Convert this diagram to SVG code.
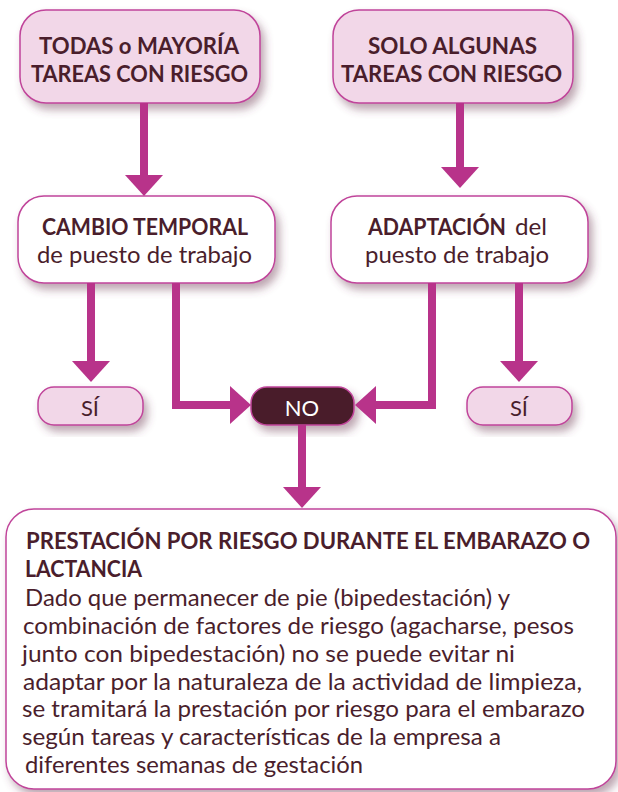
<svg xmlns="http://www.w3.org/2000/svg" width="618" height="792" viewBox="0 0 618 792">
  <defs>
    <filter id="sh" x="-10%" y="-10%" width="125%" height="140%">
      <feDropShadow dx="4" dy="6" stdDeviation="4" flood-color="#6e3a52" flood-opacity="0.45"/>
    </filter>
    <marker id="ah" markerUnits="userSpaceOnUse" markerWidth="22" markerHeight="38" refX="0" refY="19" orient="auto" viewBox="0 0 22 38">
      <path d="M0,0 L21,19 L0,38 Z" fill="#b8338a"/>
    </marker>
  </defs>
  <style>
    .pink { fill: #f2d7e8; stroke: #c0449a; stroke-width: 1.5; }
    .white { fill: #ffffff; stroke: #c0449a; stroke-width: 1.5; }
    .dark { fill: #4a1c2a; stroke: #c0449a; stroke-width: 1.5; }
    .t { font-family: Lato, "Liberation Sans", sans-serif; fill: #4a1e2c; }
    .b { font-weight: bold; }
    .c { text-anchor: middle; }
    .conn path { fill: none; stroke: #b8338a; stroke-width: 8; stroke-linejoin: miter; stroke-linecap: butt; marker-end: url(#ah); }
  </style>

  <g id="n-todas">
    <rect class="pink" x="20" y="10" width="240" height="93" rx="26" filter="url(#sh)"/>
    <text class="t b" font-size="23" x="39" y="54" textLength="200" lengthAdjust="spacingAndGlyphs">TODAS o MAYORÍA</text>
    <text class="t b" font-size="23" x="31" y="82" textLength="217" lengthAdjust="spacingAndGlyphs">TAREAS CON RIESGO</text>
  </g>

  <g id="n-solo">
    <rect class="pink" x="333" y="10" width="240" height="93" rx="26" filter="url(#sh)"/>
    <text class="t b" font-size="23" x="368" y="54" textLength="169" lengthAdjust="spacingAndGlyphs">SOLO ALGUNAS</text>
    <text class="t b" font-size="23" x="341" y="82" textLength="221" lengthAdjust="spacingAndGlyphs">TAREAS CON RIESGO</text>
  </g>

  <g id="n-cambio">
    <rect class="white" x="18" y="196" width="257" height="87" rx="26" filter="url(#sh)"/>
    <text class="t b" font-size="23" x="42" y="235" textLength="206" lengthAdjust="spacingAndGlyphs">CAMBIO TEMPORAL</text>
    <text class="t" font-size="24" x="37" y="263" textLength="215" lengthAdjust="spacingAndGlyphs">de puesto de trabajo</text>
  </g>

  <g id="n-adaptacion">
    <rect class="white" x="331" y="196" width="257" height="87" rx="26" filter="url(#sh)"/>
    <text class="t b" font-size="23" x="368" y="235" textLength="138" lengthAdjust="spacingAndGlyphs">ADAPTACIÓN</text>
    <text class="t" font-size="24" x="515" y="235" textLength="32" lengthAdjust="spacingAndGlyphs">del</text>
    <text class="t" font-size="24" x="365" y="263" textLength="184" lengthAdjust="spacingAndGlyphs">puesto de trabajo</text>
  </g>

  <g id="n-si-left">
    <rect class="pink" x="38" y="387" width="105" height="38" rx="16" filter="url(#sh)"/>
    <text class="t c" font-size="22" x="90" y="416">SÍ</text>
  </g>

  <g id="n-no">
    <rect class="dark" x="251" y="387" width="103" height="38" rx="16" filter="url(#sh)"/>
    <text class="t c" font-size="22" x="302" y="416" style="fill:#ffffff">NO</text>
  </g>

  <g id="n-si-right">
    <rect class="pink" x="467" y="387" width="105" height="38" rx="16" filter="url(#sh)"/>
    <text class="t c" font-size="22" x="519" y="416">SÍ</text>
  </g>

  <g id="n-prestacion">
    <rect class="white" x="6" y="509" width="610" height="280" rx="28" filter="url(#sh)"/>
    <text class="t b" font-size="22" x="26" y="549" textLength="564" lengthAdjust="spacingAndGlyphs">PRESTACIÓN POR RIESGO DURANTE EL EMBARAZO O</text>
    <text class="t b" font-size="22" x="25" y="577" textLength="117" lengthAdjust="spacingAndGlyphs">LACTANCIA</text>
    <text class="t" font-size="24" x="25" y="606" textLength="485" lengthAdjust="spacingAndGlyphs">Dado que permanecer de pie (bipedestación) y</text>
    <text class="t" font-size="24" x="23" y="634" textLength="551" lengthAdjust="spacingAndGlyphs">combinación de factores de riesgo (agacharse, pesos</text>
    <text class="t" font-size="24" x="22" y="662" textLength="493" lengthAdjust="spacingAndGlyphs">junto con bipedestación) no se puede evitar ni</text>
    <text class="t" font-size="24" x="23" y="690" textLength="559" lengthAdjust="spacingAndGlyphs">adaptar por la naturaleza de la actividad de limpieza,</text>
    <text class="t" font-size="24" x="22" y="717" textLength="563" lengthAdjust="spacingAndGlyphs">se tramitará la prestación por riesgo para el embarazo</text>
    <text class="t" font-size="24" x="22" y="745" textLength="479" lengthAdjust="spacingAndGlyphs">según tareas y características de la empresa a</text>
    <text class="t" font-size="24" x="25" y="773" textLength="338" lengthAdjust="spacingAndGlyphs">diferentes semanas de gestación</text>
  </g>

  <g id="connectors" class="conn">
    <path d="M144,103 V175"/>
    <path d="M460,103 V167"/>
    <path d="M91,283 V361"/>
    <path d="M176,283 V405 H230"/>
    <path d="M432,283 V405 H376"/>
    <path d="M519,283 V361"/>
    <path d="M302,425 V487"/>
  </g>
</svg>
